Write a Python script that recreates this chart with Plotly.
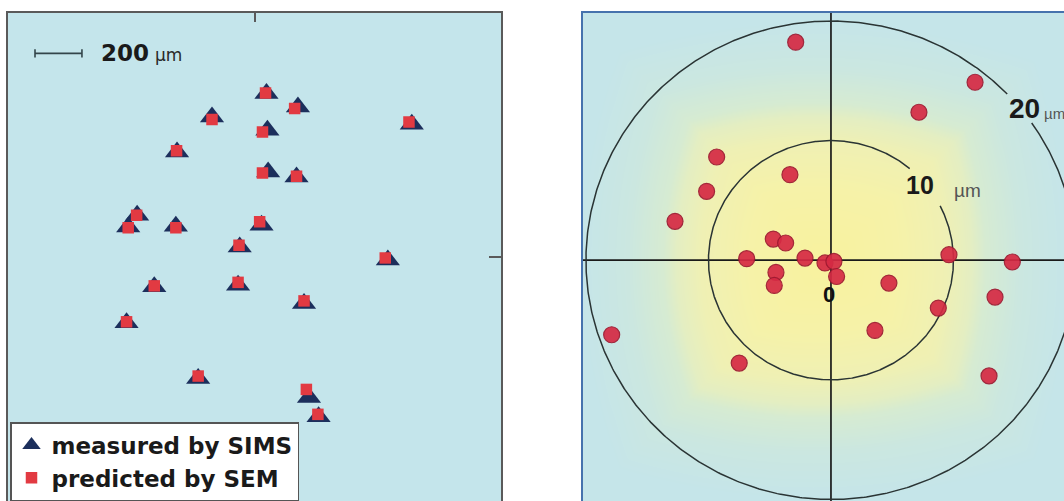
import numpy as np
import plotly.graph_objects as go

# ---- Left panel: spot positions (µm) -------------------------------------
sims_x = [1101, 1235, 1720, 869, 1105, 720, 1108, 1229, 550, 512, 715,
          1080, 987, 1618, 623, 980, 1261, 505, 810, 1282, 1323]
sims_y = [1735, 1678, 1604, 1635, 1579, 1486, 1401, 1380, 1217, 1167, 1170,
          1174, 1082, 1026, 912, 919, 841, 759, 522, 441, 359]
sem_x = [1097, 1221, 1708, 869, 1084, 718, 1084, 1229, 548, 512, 715,
         1072, 984, 1607, 623, 980, 1261, 505, 810, 1271, 1320]
sem_y = [1737, 1671, 1614, 1624, 1571, 1491, 1397, 1383, 1217, 1163, 1163,
         1189, 1089, 1035, 916, 931, 852, 763, 532, 475, 369]

# ---- Right panel: offsets between predicted and measured spots (µm) --------
dev_x = [-2.88, 11.76, 7.18, -9.33, -3.35, -10.15, -12.73, -4.71, -3.70, -6.88,
         -2.12, -0.49, 0.24, 0.46, -4.49, -4.63, 9.63, 14.80, 4.73, 13.39,
         8.76, 3.59, -17.90, -7.49, 12.90]
dev_y = [18.23, 14.88, 12.37, 8.63, 7.15, 5.76, 3.25, 1.77, 1.44, 0.13,
         0.18, -0.23, -0.10, -1.36, -1.02, -2.11, 0.46, -0.15, -1.91, -3.08,
         -4.00, -5.87, -6.23, -8.60, -9.67]

ring_radii = [10, 20]
scale_bar_um = 200

W, H = 1064, 501
TOP = 12.5
left_dom = [8 / W, 501 / W]
right_dom = [583 / W, 1.0]
y_dom = [0, 1 - TOP / H]

LX = [0, 2100]
LY = [0, 2080]
RX = [-20.24, 19.02]
RY = [-20.13, 20.71]

LEFT_BG = "rgb(196,229,235)"
NAVY = "#1c2f5c"
RED_SQ = "#e23a42"
DOT = "#d62a44"
FRAME_BLUE = "#4672ad"

fig = go.Figure()

# measured / predicted markers
fig.add_trace(go.Scatter(
    x=sims_x, y=sims_y, mode="markers", name="measured by SIMS",
    marker=dict(symbol="triangle-up", size=21, color=NAVY, line=dict(width=0)),
    xaxis="x", yaxis="y"))
fig.add_trace(go.Scatter(
    x=sem_x, y=sem_y, mode="markers", name="predicted by SEM",
    marker=dict(symbol="square", size=11.5, color=RED_SQ, line=dict(width=0)),
    xaxis="x", yaxis="y"))

# right panel background: soft yellow centre fading to pale blue
gx = np.arange(-20.75, 19.76, 0.25)
gy = np.arange(-20.75, 21.01, 0.25)
GX, GY = np.meshgrid(gx, gy)
gz = 0.6 * np.maximum(np.abs(GX), np.abs(GY)) + 0.4 * np.hypot(GX + 1.5, GY)
fig.add_trace(go.Heatmap(
    x=gx, y=gy, z=gz, zmin=0, zmax=20, zsmooth="best", showscale=False,
    hoverinfo="skip", showlegend=False,
    colorscale=[[0.0, "rgb(248,242,158)"], [0.3, "rgb(246,242,168)"],
                [0.5, "rgb(239,240,180)"], [0.6, "rgb(228,238,194)"],
                [0.66, "rgb(214,235,210)"], [0.8, "rgb(203,231,224)"],
                [1.0, "rgb(197,229,233)"]],
    xaxis="x2", yaxis="y2"))

# crosshair through the origin
fig.add_trace(go.Scatter(x=RX, y=[0, 0], mode="lines", showlegend=False,
                         line=dict(color="#1a1a1a", width=1.7),
                         hoverinfo="skip", xaxis="x2", yaxis="y2"))
fig.add_trace(go.Scatter(x=[0, 0], y=RY, mode="lines", showlegend=False,
                         line=dict(color="#1a1a1a", width=1.7),
                         hoverinfo="skip", xaxis="x2", yaxis="y2"))

# reference rings, each with a gap where its label sits
gaps = {10: (27, 50), 20: (35, 44)}
for r in ring_radii:
    g0, g1 = gaps[r]
    th = np.radians(np.linspace(g1, g0 + 360, 720))
    fig.add_trace(go.Scatter(
        x=r * np.cos(th), y=r * np.sin(th), mode="lines", showlegend=False,
        line=dict(color="#2a3434", width=1.5), hoverinfo="skip",
        xaxis="x2", yaxis="y2"))

fig.add_trace(go.Scatter(
    x=dev_x, y=dev_y, mode="markers", showlegend=False,
    marker=dict(symbol="circle", size=16, color=DOT, opacity=0.92,
                line=dict(color="#9c1830", width=1.2)),
    xaxis="x2", yaxis="y2"))

# scale bar (left panel)
sb_y = 1906
sb_x0 = 115
sb_x1 = sb_x0 + scale_bar_um
shapes = [
    dict(type="line", xref="x", yref="y", x0=sb_x0, x1=sb_x1, y0=sb_y, y1=sb_y,
         line=dict(color="#33454a", width=1.6)),
    dict(type="line", xref="x", yref="y", x0=sb_x0, x1=sb_x0, y0=sb_y - 18, y1=sb_y + 18,
         line=dict(color="#33454a", width=1.6)),
    dict(type="line", xref="x", yref="y", x0=sb_x1, x1=sb_x1, y0=sb_y - 18, y1=sb_y + 18,
         line=dict(color="#33454a", width=1.6)),
]

annotations = [
    dict(x=sb_x1 + 72, y=sb_y, xref="x", yref="y", text="<b>200</b>",
         showarrow=False, xanchor="left", yanchor="middle",
         font=dict(family="DejaVu Sans", size=23, color="#1a1a1a")),
    dict(x=sb_x1 + 302, y=sb_y - 6, xref="x", yref="y", text="µm",
         showarrow=False, xanchor="left", yanchor="middle",
         font=dict(family="DejaVu Sans", size=17, color="#2a2a2a")),
    dict(x=7.27, y=6.32, xref="x2", yref="y2", text="<b>10</b>",
         showarrow=False, xanchor="center", yanchor="middle",
         font=dict(family="Liberation Sans", size=25, color="#1a1a1a")),
    dict(x=9.9, y=5.85, xref="x2", yref="y2", text="µm",
         showarrow=False, xanchor="left", yanchor="middle",
         font=dict(family="Liberation Sans", size=19, color="#555555")),
    dict(x=15.76, y=12.68, xref="x2", yref="y2", text="<b>20</b>",
         showarrow=False, xanchor="center", yanchor="middle",
         font=dict(family="Liberation Sans", size=28, color="#1a1a1a")),
    dict(x=17.2, y=12.3, xref="x2", yref="y2", text="µm",
         showarrow=False, xanchor="left", yanchor="middle",
         font=dict(family="Liberation Sans", size=15, color="#555555")),
    dict(x=-0.15, y=-2.9, xref="x2", yref="y2", text="<b>0</b>",
         showarrow=False, xanchor="center", yanchor="middle",
         font=dict(family="Liberation Sans Narrow, Liberation Sans", size=22,
                   color="#111111")),
]

fig.update_layout(
    width=W, height=H,
    margin=dict(l=0, r=0, t=0, b=0),
    paper_bgcolor="white",
    plot_bgcolor=LEFT_BG,
    shapes=shapes,
    annotations=annotations,
    showlegend=True,
    legend=dict(
        x=10 / W, y=0, xanchor="left", yanchor="bottom",
        bgcolor="white", bordercolor="#555555", borderwidth=1.5,
        font=dict(family="DejaVu Sans", size=23, color="#1a1a1a", weight="bold"),
        itemwidth=30, tracegroupgap=0,
    ),
    xaxis=dict(domain=left_dom, range=LX, side="top", showgrid=False, zeroline=False,
               showline=True, linecolor="#5a5a5a", linewidth=1.6, mirror=False,
               ticks="inside", ticklen=10, tickwidth=1.5, tickcolor="#5a5a5a",
               tickvals=[1050], showticklabels=False, fixedrange=True),
    yaxis=dict(domain=y_dom, range=LY, side="right", showgrid=False, zeroline=False,
               showline=True, linecolor="#5a5a5a", linewidth=1.6, mirror=True,
               ticks="inside", ticklen=12, tickwidth=1.5, tickcolor="#5a5a5a",
               tickvals=[1040], showticklabels=False, fixedrange=True),
    xaxis2=dict(domain=right_dom, range=RX, side="top", anchor="y2", showgrid=False,
                zeroline=False, showline=True, linecolor=FRAME_BLUE, linewidth=2.2,
                showticklabels=False, ticks="", fixedrange=True),
    yaxis2=dict(domain=y_dom, range=RY, anchor="x2", showgrid=False, zeroline=False,
                showline=True, linecolor=FRAME_BLUE, linewidth=2.2, mirror=False,
                showticklabels=False, ticks="", fixedrange=True),
)

fig.write_html("out.html")
